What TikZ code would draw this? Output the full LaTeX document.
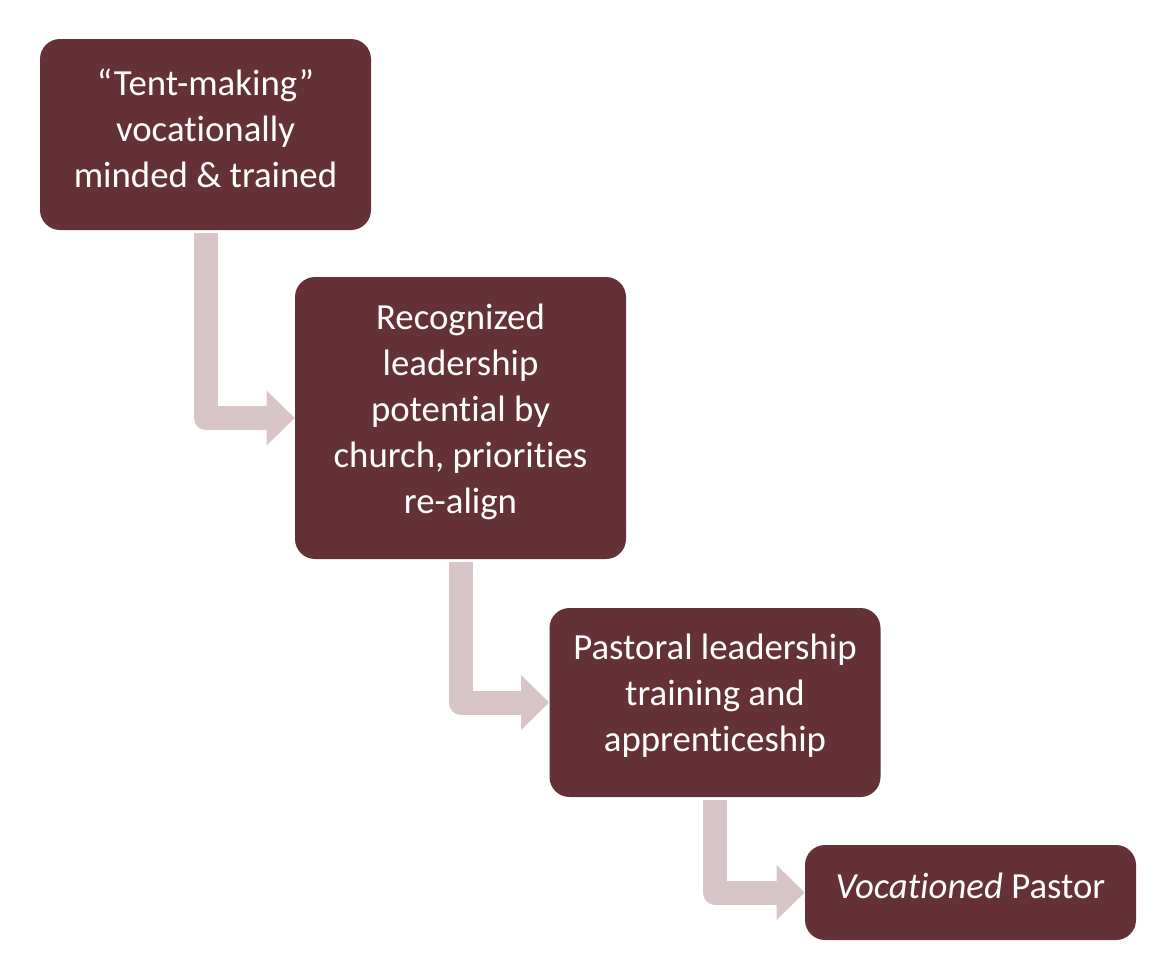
\documentclass[tikz,border=0pt]{standalone}
\usepackage{fontspec}
\setmainfont{Carlito}[Ligatures=NoCommon]
\usetikzlibrary{arrows.meta}
\definecolor{maroon-box}{RGB}{100,50,54}
\definecolor{rose-flow}{RGB}{216,197,200}
\begin{document}
\begin{tikzpicture}[%
            x=0.5pt,
            y=-0.5pt,
            stage/.style={%
              fill=maroon-box,
              text=white,
              rounded corners=10pt,
              align=flush center,
              text width=160pt,
              minimum width=165.5pt,
              inner sep=0pt,
              font=\fontsize{18.4}{23}\selectfont,
              execute at end node={\endgraf\vspace*{6.5pt}},
            },
            flow/.style={%
              draw=rose-flow,
              line width=12pt,
              line join=round,
              -{Triangle[length=14pt,width=27.5pt,line width=0pt]},
            },
          ]
            \useasboundingbox (0,0) rectangle (1175,980);

            \node [%
              stage,
              minimum height=95.5pt,
            ] (tentmaking) at (205.5,134.5) {“Tent-making”\\vocationally\\minded \& trained};
            \node [%
              stage,
              minimum height=141pt,
            ] (recognized) at (460.5,418) {Recognized\\leadership\\potential by\\church, priorities\\re-align};
            \node [%
              stage,
              minimum height=94.5pt,
            ] (pastoral) at (715,702.5) {Pastoral leadership\\training and\\apprenticeship};
            \node [%
              stage,
              minimum height=47.5pt,
            ] (vocationed) at (970.5,892.5) {\textit{Vocationed} Pastor};

            \draw [flow] ([yshift=-1.5pt]tentmaking.south) |- (recognized.west);
            \draw [flow] ([yshift=-1.5pt]recognized.south) |- (pastoral.west);
            \draw [flow] ([yshift=-1.5pt]pastoral.south) |- (vocationed.west);
          \end{tikzpicture}
\end{document}
